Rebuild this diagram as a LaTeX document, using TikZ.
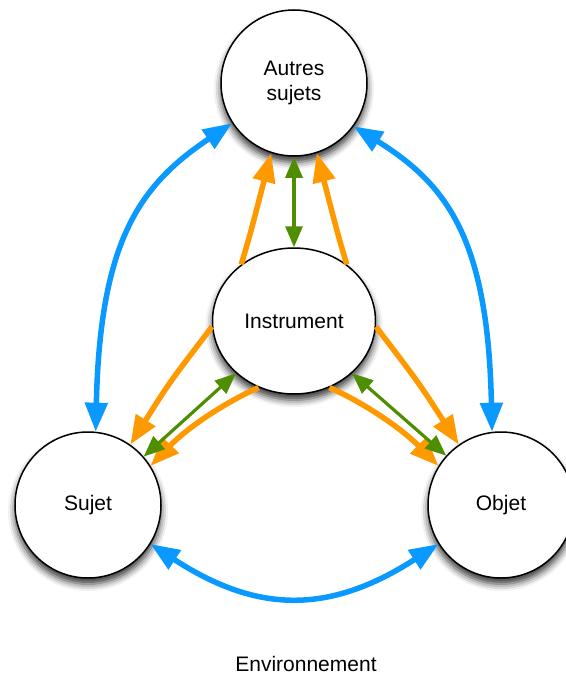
\documentclass[tikz,border=0pt]{standalone}
\usepackage{fontspec}
\setmainfont{Liberation Sans}
\usetikzlibrary{arrows.meta,shadows.blur,shapes.geometric}
\definecolor{bl}{HTML}{0A99FF}
\definecolor{orng}{HTML}{FF9900}
\definecolor{grn}{HTML}{4F8E00}
\begin{document}
\begin{tikzpicture}[x=1pt,y=-1pt,
  txt/.style={font=\fontsize{21}{25}\selectfont},
  bubble/.style={circle,draw=black,line width=1.5pt,fill=white,minimum size=146pt,inner sep=0pt,align=center,txt,
    blur shadow={shadow xshift=0pt,shadow yshift=-6pt,shadow blur radius=7pt,shadow opacity=80}},
  oval/.style={bubble,ellipse,minimum width=163pt,minimum height=146pt},
  bluearr/.style={draw=bl,line width=5.5pt,{Triangle[length=29pt,width=22pt]}-{Triangle[length=29pt,width=22pt]}},
  orarr/.style={draw=orng,line width=5.5pt,-{Triangle[length=29pt,width=22pt]}},
  grarr/.style={draw=grn,line width=3.2pt,{Triangle[length=21pt,width=17pt]}-{Triangle[length=21pt,width=17pt]}}
]
\useasboundingbox (0,0) rectangle (565,677);
\node[bubble] (a) at (294,83) {Autres\\sujets};
\node[oval] (i) at (294,321) {Instrument};
\node[bubble] (s) at (88,505) {Sujet};
\node[bubble] (o) at (501,505) {Objet};
\node[txt] (env) at (306,664) {Environnement};
% blue
\draw[bluearr] (a.213) .. controls (140,185) and (100,240) .. (s.84);
\draw[bluearr] (a.324) .. controls (448,185) and (488,240) .. (o.97);
\draw[bluearr] (s.328) .. controls (258,614) and (330,614) .. (o.212);
% orange
\draw[orarr] (i.133) .. controls (250,235) .. (a.252);
\draw[orarr] (i.47) .. controls (338,235) .. (a.288);
\draw[orarr] (i.184) .. controls (169,383) .. (s.55);
\draw[orarr] (i.242) .. controls (230,400) and (190,425) .. (s.32);
\draw[orarr] (i.356) .. controls (419,383) .. (o.125);
\draw[orarr] (i.298) .. controls (358,400) and (398,425) .. (o.148);
% green
\draw[grarr] (a.270) -- (i.90);
\draw[grarr] (i.222) -- (s.41);
\draw[grarr] (i.318) -- (o.138);
\end{tikzpicture}
\end{document}
